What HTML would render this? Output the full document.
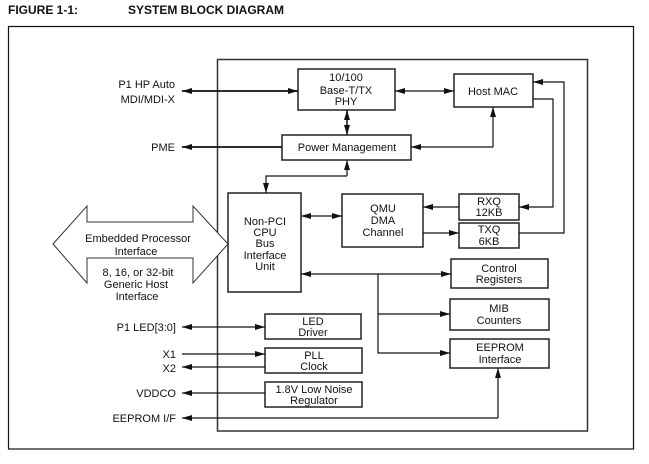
<!DOCTYPE html>
<html><head><meta charset="utf-8"><style>
html,body{margin:0;padding:0;background:#fff;}
svg{display:block;}
text{font-family:"Liberation Sans",Arial,sans-serif;font-size:11px;fill:#111;}
.c{text-anchor:middle;}
.r{text-anchor:end;}
</style></head><body>
<svg width="649" height="464" viewBox="0 0 649 464" xmlns="http://www.w3.org/2000/svg">
<defs>
<marker id="a" viewBox="0 0 10 6" refX="10" refY="3" markerWidth="10" markerHeight="6" markerUnits="userSpaceOnUse" orient="auto-start-reverse"><path d="M0,0 L10,3 L0,6 Z" fill="#111"/></marker>
</defs>
<text x="8" y="14" style="font-weight:bold;font-size:12px">FIGURE 1-1:</text>
<text x="128" y="14" style="font-weight:bold;font-size:12px">SYSTEM BLOCK DIAGRAM</text>
<rect x="8.5" y="26.5" width="625" height="422.5" fill="none" stroke="#111" stroke-width="1.2"/>
<rect x="217.5" y="59.5" width="370" height="371.5" fill="none" stroke="#333" stroke-width="1.5"/>
<g fill="#fff" stroke="#222" stroke-width="1.5">
<rect x="298" y="69" width="97" height="41"/>
<rect x="454" y="74" width="79" height="33"/>
<rect x="282" y="135" width="129" height="25"/>
<rect x="228" y="193" width="73" height="99"/>
<rect x="342" y="194" width="81" height="53"/>
<rect x="459" y="194" width="60" height="26"/>
<rect x="459" y="223" width="60" height="25"/>
<rect x="451" y="259" width="97" height="29"/>
<rect x="450" y="299" width="99" height="31"/>
<rect x="450" y="339" width="99" height="29"/>
<rect x="265" y="314" width="96" height="25"/>
<rect x="265" y="348" width="97" height="25"/>
<rect x="265" y="382" width="97" height="25"/>
</g>
<path d="M53,244 L87,206 L87,222 L193,222 L193,206 L228,244 L193,283 L193,258 L87,258 L87,283 Z" fill="#fff" stroke="#333" stroke-width="1"/>
<g fill="none" stroke="#111" stroke-width="1.2">
<line x1="182" y1="91" x2="298" y2="91" stroke-width="1.8" marker-start="url(#a)" marker-end="url(#a)"/>
<line x1="395" y1="91" x2="454" y2="91" marker-start="url(#a)" marker-end="url(#a)"/>
<line x1="347" y1="110" x2="347" y2="135" stroke-width="1.5" marker-start="url(#a)" marker-end="url(#a)"/>
<line x1="282" y1="147" x2="182" y2="147" stroke-width="1.8" marker-end="url(#a)"/>
<polyline points="493,147 493,107" marker-end="url(#a)"/>
<polyline points="493,147 411,147" marker-end="url(#a)"/>
<polyline points="347,176 347,160" marker-end="url(#a)"/>
<polyline points="347,176 266,176 266,193" marker-end="url(#a)"/>
<polyline points="533,99 553,99 553,207 519,207" marker-end="url(#a)"/>
<polyline points="519,233 564,233 564,82 533,82" marker-end="url(#a)"/>
<line x1="459" y1="207" x2="423" y2="207" marker-end="url(#a)"/>
<line x1="423" y1="233" x2="459" y2="233" marker-end="url(#a)"/>
<line x1="301" y1="216" x2="342" y2="216" marker-start="url(#a)" marker-end="url(#a)"/>
<line x1="301" y1="274" x2="451" y2="274" marker-start="url(#a)" marker-end="url(#a)"/>
<polyline points="378,274 378,353 450,353" marker-end="url(#a)"/>
<line x1="378" y1="314" x2="450" y2="314" marker-end="url(#a)"/>
<line x1="182" y1="327" x2="265" y2="327" marker-start="url(#a)" marker-end="url(#a)"/>
<line x1="182" y1="354" x2="265" y2="354" marker-end="url(#a)"/>
<line x1="265" y1="367" x2="182" y2="367" marker-end="url(#a)"/>
<line x1="265" y1="393" x2="182" y2="393" marker-end="url(#a)"/>
<polyline points="498,418 182,418" marker-end="url(#a)"/>
<polyline points="498,418 498,368" marker-end="url(#a)"/>
</g>
<text class="c" x="346" y="81">10/100</text>
<text class="c" x="346" y="94">Base-T/TX</text>
<text class="c" x="346" y="105">PHY</text>
<text class="c" x="493" y="95">Host MAC</text>
<text class="c" x="347" y="151">Power Management</text>
<text class="c" x="265" y="225">Non-PCI</text>
<text class="c" x="265" y="236">CPU</text>
<text class="c" x="265" y="247">Bus</text>
<text class="c" x="265" y="259">Interface</text>
<text class="c" x="265" y="270">Unit</text>
<text class="c" x="383" y="212">QMU</text>
<text class="c" x="383" y="224">DMA</text>
<text class="c" x="383" y="236">Channel</text>
<text class="c" x="489" y="205">RXQ</text>
<text class="c" x="489" y="216">12KB</text>
<text class="c" x="489" y="233">TXQ</text>
<text class="c" x="489" y="245">6KB</text>
<text class="c" x="499" y="272">Control</text>
<text class="c" x="499" y="283">Registers</text>
<text class="c" x="499" y="312">MIB</text>
<text class="c" x="499" y="324">Counters</text>
<text class="c" x="500" y="351">EEPROM</text>
<text class="c" x="500" y="363">Interface</text>
<text class="c" x="313" y="325">LED</text>
<text class="c" x="313" y="336">Driver</text>
<text class="c" x="314" y="359">PLL</text>
<text class="c" x="314" y="370">Clock</text>
<text class="c" x="314" y="393">1.8V Low Noise</text>
<text class="c" x="314" y="404">Regulator</text>
<text class="c" x="138" y="242">Embedded Processor</text>
<text class="c" x="136" y="255">Interface</text>
<text class="c" x="138" y="276">8, 16, or 32-bit</text>
<text class="c" x="136" y="288">Generic Host</text>
<text class="c" x="137" y="300">Interface</text>
<text class="r" x="175" y="88">P1 HP Auto</text>
<text class="r" x="175" y="103">MDI/MDI-X</text>
<text class="r" x="175" y="151">PME</text>
<text class="r" x="176" y="331">P1 LED[3:0]</text>
<text class="r" x="176" y="358">X1</text>
<text class="r" x="176" y="372">X2</text>
<text class="r" x="176" y="397">VDDCO</text>
<text class="r" x="176" y="422">EEPROM I/F</text>
</svg>
</body></html>
